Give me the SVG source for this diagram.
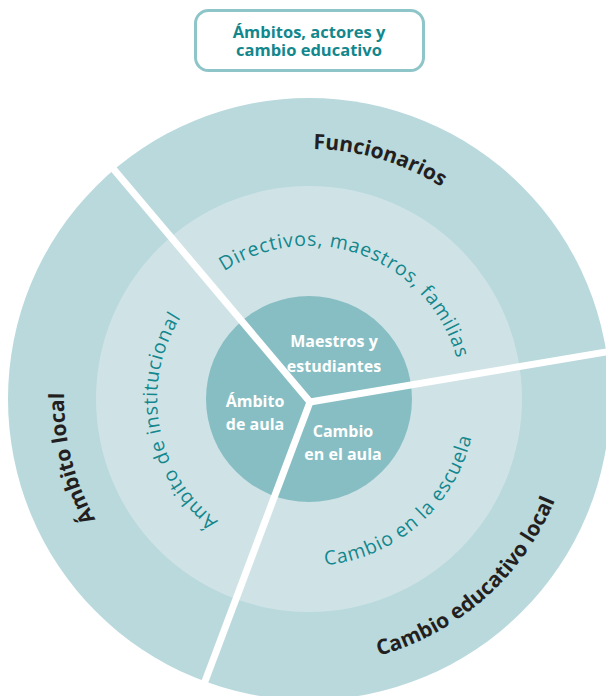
<svg xmlns="http://www.w3.org/2000/svg" xmlns:xlink="http://www.w3.org/1999/xlink" width="606" height="696" viewBox="0 0 606 696">
  <style>
    .title { font-family: "Open Sans", "Noto Sans", sans-serif; font-weight: 700; font-size: 16.5px; fill: #12878d; text-anchor: middle; }
    .core { font-family: "Open Sans", "Noto Sans", sans-serif; font-weight: 700; font-size: 16px; fill: #ffffff; text-anchor: middle; }
    .mid { font-family: "Open Sans", "Noto Sans", sans-serif; font-weight: 400; font-size: 19.5px; letter-spacing: 0.8px; fill: #12878d; text-anchor: middle; }
    .outer { font-family: "Open Sans", "Noto Sans", sans-serif; font-weight: 700; font-size: 21px; fill: #231f20; text-anchor: middle; }
    .divider { stroke: #ffffff; stroke-width: 7; stroke-linecap: butt; }
  </style>
  <defs>
    <!-- clockwise arcs: letters face outward -->
    <path id="arcFuncionarios" d="M136.9,217.6 A250,250 0 0 1 552.1,340.6" fill="none"/>
    <path id="arcDirectivos" d="M171.0,332.9 A153,153 0 0 1 456.4,440.1" fill="none"/>
    <path id="arcInstitucional" d="M283.4,548.8 A152,152 0 0 1 232.3,267.8" fill="none"/>
    <path id="arcLocal" d="M241.5,634.5 A245,245 0 0 1 138.8,222.8" fill="none"/>
    <!-- counter-clockwise arcs: letters face the centre -->
    <path id="arcEscuela" d="M228.5,545.3 A167,167 0 0 0 464.7,338.6" fill="none"/>
    <path id="arcCambioLocal" d="M181.7,632.5 A266,266 0 0 0 556.7,301.9" fill="none"/>
  </defs>

  <!-- heading -->
  <g id="titulo">
    <rect x="195.5" y="10.5" width="228" height="60" rx="13" ry="13" fill="#ffffff" stroke="#8ec5c9" stroke-width="3"/>
    <text class="title" x="309" y="38">Ámbitos, actores y</text>
    <text class="title" x="309" y="56">cambio educativo</text>
  </g>

  <!-- concentric rings -->
  <g id="anillo-externo">
    <circle cx="309" cy="399" r="301" fill="#b9d9dc"/>
  </g>
  <g id="anillo-medio">
    <circle cx="309" cy="399" r="213" fill="#cfe3e6"/>
  </g>
  <g id="nucleo">
    <circle cx="309" cy="399" r="103" fill="#87bec3"/>
  </g>

  <!-- white dividers between the three sectors -->
  <g id="divisores">
    <line class="divider" x1="310" y1="402" x2="105" y2="159"/>
    <line class="divider" x1="310" y1="402" x2="612" y2="351"/>
    <line class="divider" x1="310" y1="402" x2="198" y2="700"/>
  </g>

  <!-- core labels -->
  <g id="maestros-estudiantes">
    <text class="core" x="334" y="347">Maestros y</text>
    <text class="core" x="334" y="372">estudiantes</text>
  </g>
  <g id="ambito-aula">
    <text class="core" x="255" y="407">Ámbito</text>
    <text class="core" x="255" y="430">de aula</text>
  </g>
  <g id="cambio-aula">
    <text class="core" x="343" y="437">Cambio</text>
    <text class="core" x="343" y="460">en el aula</text>
  </g>

  <!-- middle ring labels -->
  <g id="directivos">
    <text class="mid"><textPath xlink:href="#arcDirectivos" href="#arcDirectivos" startOffset="50%">Directivos, maestros, familias</textPath></text>
  </g>
  <g id="ambito-institucional">
    <text class="mid"><textPath xlink:href="#arcInstitucional" href="#arcInstitucional" startOffset="50%">Ámbito de institucional</textPath></text>
  </g>
  <g id="cambio-escuela">
    <text class="mid"><textPath xlink:href="#arcEscuela" href="#arcEscuela" startOffset="50%">Cambio en la escuela</textPath></text>
  </g>

  <!-- outer ring labels -->
  <g id="funcionarios">
    <text class="outer"><textPath xlink:href="#arcFuncionarios" href="#arcFuncionarios" startOffset="50%">Funcionarios</textPath></text>
  </g>
  <g id="ambito-local">
    <text class="outer"><textPath xlink:href="#arcLocal" href="#arcLocal" startOffset="50%">Ámbito local</textPath></text>
  </g>
  <g id="cambio-educativo-local">
    <text class="outer"><textPath xlink:href="#arcCambioLocal" href="#arcCambioLocal" startOffset="50%">Cambio educativo local</textPath></text>
  </g>
</svg>
